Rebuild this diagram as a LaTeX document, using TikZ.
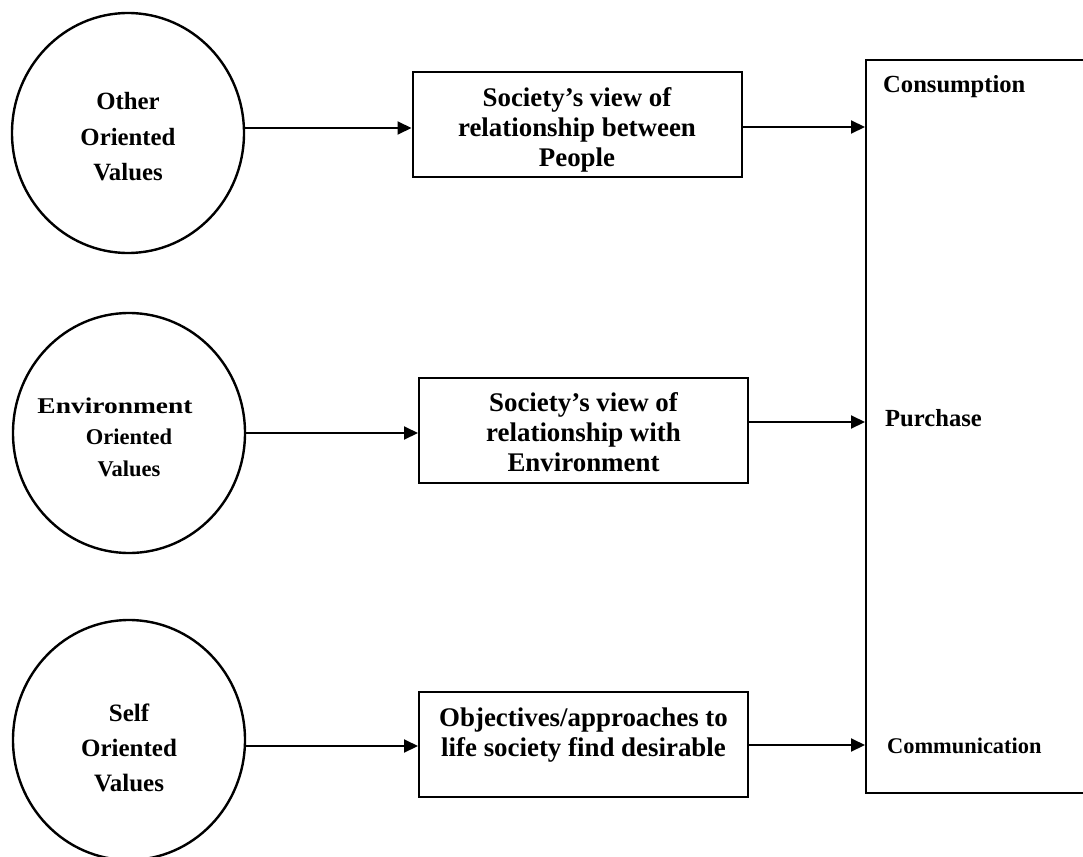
\documentclass[tikz,border=0pt]{standalone}
\usepackage{fontspec}
\setmainfont{Liberation Serif}
\usetikzlibrary{shapes.geometric,arrows.meta}

\tikzset{
  valuering/.style={ellipse, draw, line width=2.4pt, minimum width=232pt,
    minimum height=240pt, inner sep=0pt},
  ringtext/.style={align=center, font=\bfseries\fontsize{24.8}{35.5}\selectfont},
  viewbox/.style={draw, line width=2pt, minimum width=329pt, minimum height=105pt,
    inner sep=0pt},
  viewtext/.style={align=center, inner sep=0pt, font=\bfseries\fontsize{26.9}{30}\selectfont},
  outcome/.style={anchor=west, inner sep=0pt, font=\bfseries\fontsize{24.6}{28}\selectfont},
  link/.style={line width=2pt, -{Triangle[length=14pt,width=13pt]}}
}

\begin{document}
\begin{tikzpicture}[x=1pt,y=-1pt]
\useasboundingbox (0,0) rectangle (1083,856);

% value circles
\node[valuering] (other) at (128,133) {};
\node[valuering] (env)   at (129,433) {};
\node[valuering] (self)  at (129,740) {};

\node[ringtext] (othertxt) at (128,137) {Other\\Oriented\\Values};
\node[ringtext, font=\bfseries\fontsize{22.5}{31.5}\selectfont] (envtxt) at (129,437)
  {{\addfontfeature{FakeStretch=1.22}Environment}\hspace*{28pt}\\Oriented\\Values};
\node[ringtext, font=\bfseries\fontsize{25}{35}\selectfont] (selftxt) at (129,748) {Self\\Oriented\\Values};

% societal views
\node[viewbox] (people) at (577,124.5) {};
\node[viewbox] (nature) at (583.5,430) {};
\node[viewbox] (goals)  at (583.5,744.5) {};

\node[viewtext] (peopletxt) at (577,129.5) {Society’s view of\\relationship between\\People};
\node[viewtext] (naturetxt) at (583.5,432) {Society’s view of\\relationship with\\Environment};
\node[viewtext] (goalstxt)  at (583.5,751.5) {Objectives/approaches to\\life society find desirable\\\strut};

% behaviour panel
\node[draw, line width=2pt, anchor=north west, minimum width=240pt, minimum height=733pt,
  inner sep=0pt] (acts) at (865,59) {};
\node[outcome] (consume) at (883,87) {Consumption};
\node[outcome] (buy)     at (885,418) {Purchase};
\node[outcome, font=\bfseries\fontsize{22.4}{26}\selectfont] (talk) at (887,746) {Communication};

% connectors
\draw[link] (other.east |- 0,128) -- (people.west |- 0,128);
\draw[link] (env.east) -- (env.east -| nature.west);
\draw[link] (self.east |- 0,746) -- (goals.west |- 0,746);

\draw[link] (people.east |- 0,127) -- (acts.west |- 0,127);
\draw[link] (nature.east |- 0,422) -- (acts.west |- 0,422);
\draw[link] (goals.east |- 0,745) -- (acts.west |- 0,745);
\end{tikzpicture}
\end{document}
